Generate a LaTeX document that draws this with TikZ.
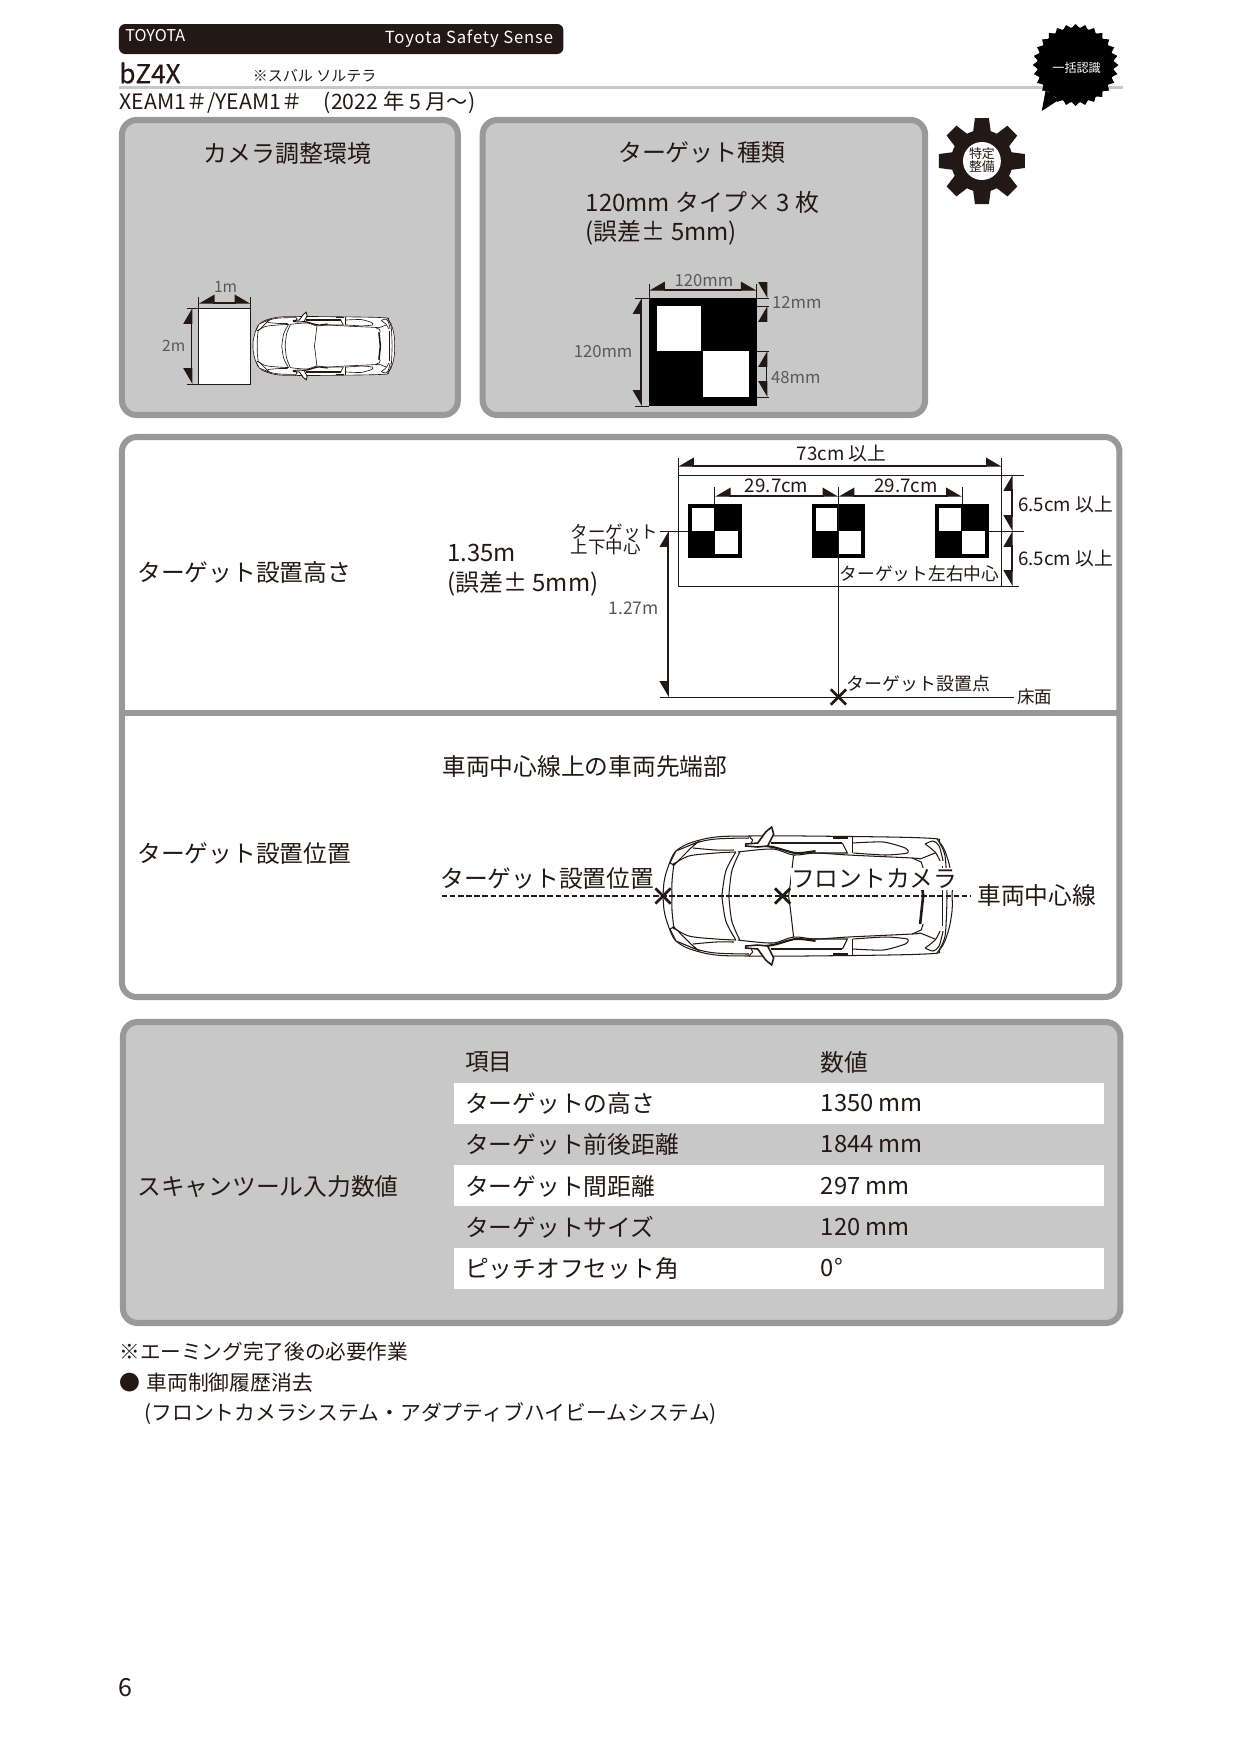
\documentclass[tikz,border=0pt]{standalone}
\usepackage{fontspec}
\setmainfont{Noto Sans CJK JP}
\newfontfamily\spacedfont[LetterSpace=5]{Noto Sans CJK JP}
\newfontfamily\heavyfont[FakeBold=0.6]{Noto Sans CJK JP}
\usepackage{xcolor}
\usetikzlibrary{arrows.meta}
\usetikzlibrary{shapes.misc}
\definecolor{ink}{HTML}{231815}
\definecolor{panelfill}{HTML}{C8C8C8}
\definecolor{panelrim}{HTML}{999999}
\tikzset{
    txt/.style={
        font=\fontsize{#1}{#1}\selectfont,
        text=ink,
        anchor=west,
        inner sep=0pt
    },
    grey/.style={
        text=black!65
    },
    panelbox/.style={
        draw=panelrim,
        line width=2.9pt,
        rounded corners=7pt
    },
    thinline/.style={
        draw=ink,
        line width=0.45pt
    },
    dimh/.style={
        draw=ink,
        line width=0.7pt,
        {Triangle[harpoon,swap,length=7pt,width=8pt]}-{Triangle[harpoon,length=7pt,width=8pt]}
    },
    dimv/.style={
        draw=ink,
        line width=0.7pt,
        {Triangle[harpoon,length=7pt,width=8pt]}-{Triangle[harpoon,swap,length=7pt,width=8pt]}
    },
    tipdown/.style={
        draw=ink,
        line width=0.7pt,
        -{Triangle[harpoon,swap,length=7pt,width=8pt]}
    },
    tipup/.style={
        draw=ink,
        line width=0.7pt,
        -{Triangle[harpoon,length=7pt,width=8pt]}
    },
    crossmark/.style={
        cross out,
        draw=ink,
        line width=1.3pt,
        inner sep=0pt,
        minimum size=6pt
    },
    pics/checker/.style={
        code={
            \fill[black] (0,0) rectangle (108,108);
            \fill[white] (8,8) rectangle (52,53);
            \fill[white] (54,53) rectangle (100,99);
        }
    },
    pics/carview/.style={
        code={
            \foreach \s in {1,-1} {
                \begin{scope}[yscale=\s, line width=#1, draw=ink]
                    % body half, then its lines
                    \fill[white] plot[smooth, tension=.6] coordinates {(7,0) (8,-14) (11,-26) (17,-41) (24,-48) (37,-54) (60,-59) (93,-60) (150,-60) (270,-58) (285,-53) (293,-36) (297,-15) (297,0)} -- cycle;
                    \draw plot[smooth, tension=.6] coordinates {(7,0) (8,-14) (11,-26) (17,-41) (24,-48) (37,-54) (60,-59) (93,-60) (150,-60) (270,-58) (285,-53) (293,-36) (297,-15) (297,0)};
                    \draw plot[smooth, tension=.6] coordinates {(25,-46) (40,-53) (60,-57) (93,-58)};
                    % headlight and hood
                    \draw[fill=white] (14,-33) -- (20,-45) -- (42,-54) -- (35,-48) -- (18,-31) -- cycle;
                    \draw plot[smooth] coordinates {(16,-31) (33,-40) (60,-43) (80,-44)};
                    \draw plot[smooth] coordinates {(37,-48) (60,-46) (78,-46)};
                    \draw plot[smooth] coordinates {(18,-33) (16,-15) (16,0)};
                    % cowl arcs and roof line
                    \draw plot[smooth] coordinates {(80,-44) (70,-25) (66,0)};
                    \draw plot[smooth] coordinates {(84,-44) (76,-25) (73,0)};
                    \draw plot[smooth] coordinates {(82,-44) (117,-47) (138,-41) (160,-43) (193,-41) (257,-38) (265,-37)};
                    \draw plot[smooth] coordinates {(138,-41) (135,-15) (133,0)};
                    % windows and rails
                    \draw[line width=2*#1] plot[smooth] coordinates {(90,-52) (117,-49) (140,-43) (160,-45)};
                    \draw[line width=2*#1] (115,-53) -- (187,-53);
                    \draw (187,-53) -- (192,-43) -- (150,-43);
                    \draw (197,-59) -- (197,-43);
                    \draw plot[smooth, tension=.4] coordinates {(197,-53) (228,-54) (250,-48) (252,-43) (230,-41) (198,-43)};
                    \draw[line width=2*#1] (178,-58) -- (193,-58);
                    % tail end
                    \draw (265,-37) -- (280,-43);
                    \draw (257,-38) -- (266,-34) -- (268,-28);
                    \draw[line width=2.5*#1] (265,-28) -- (268,0);
                    \draw plot[smooth] coordinates {(270,-52) (278,-55) (284,-50) (288,-35)};
                    \draw plot[smooth] coordinates {(270,-52) (280,-44) (285,-35)};
                    \draw plot[smooth] coordinates {(282,-57) (290,-40) (292,0)};
                    \draw (287,-30) -- (287,0);
                    % door mirror
                    \draw (93,-60) -- (97,-56) -- (95,-52);
                    \draw[fill=white, line width=1.5*#1] (90,-52) -- (102,-53) -- (110,-64) -- (116,-69) -- (118,-62) -- (112,-50) -- (102,-49) -- (90,-50) -- cycle;
                \end{scope}
            }
        }
    }
}

\begin{document}
\begin{tikzpicture}[x=0.4783pt, y=-0.48pt]
  \useasboundingbox (-0.4,0) rectangle (1245,1754);

  % Header
  \fill[ink, rounded corners=3pt] (119,24) rectangle (565,54);
  \node[txt=7.8, text=white] (maker) at (125,36) {TOYOTA};
  \node[txt=8, text=white, anchor=east] (system) at (555,39) {\spacedfont Toyota Safety Sense};
  \fill[panelfill] (119,86) rectangle (1127,89);
  \node[txt=12.5] (model) at (119,73) {\heavyfont bZ4X};
  \node[txt=7.2] (twin) at (253,76) {※スバル ソルテラ};
  \node[txt=10.2] (code) at (119,103) {XEAM1＃/YEAM1＃　(2022 年 5 月～)};

  % Burst badge
  \fill[black] (1079,65) ellipse (38.5 and 37.5);
  \foreach \k in {0,...,27} {
    \pgfmathsetmacro{\ao}{\k*360/28}
    \pgfmathsetmacro{\al}{\ao-180/28}
    \pgfmathsetmacro{\ar}{\ao+180/28}
    \fill[black] ({1079+38*cos(\al)},{65+37*sin(\al)}) -- ({1079+43*cos(\ao)},{65+41*sin(\ao)}) -- ({1079+38*cos(\ar)},{65+37*sin(\ar)}) -- cycle;
  }
  \fill[black] (1045,111) -- (1049,90) -- (1062,100) -- cycle;
  \node[txt=5.8, text=white, anchor=center] (badge) at (1080,68) {一括認識};

  % Gear badge
  \fill[ink] (985,161) circle (31);
  \foreach \a in {0,45,...,315} {
    \fill[ink, rotate around={\a:(985,161)}] (976,133) -- (994,133) -- (992,118) -- (978,118) -- cycle;
  }
  \fill[white] (985,161) circle (19);
  \node[txt=6.2, anchor=center] (gearA) at (985,154) {特定};
  \node[txt=6.2, anchor=center] (gearB) at (985,167) {整備};

  % Top panels
  \draw[panelbox, fill=panelfill] (122,120) rectangle (459,415);
  \draw[panelbox, fill=panelfill] (484,120) rectangle (928,415);
  \node[txt=11.5, anchor=center] (envtitle) at (288,153) {カメラ調整環境};
  \node[txt=11.5, anchor=center] (kindtitle) at (704,153) {ターゲット種類};
  \node[txt=11.5] (kindA) at (587,202) {120mm タイプ× 3 枚};
  \node[txt=11.5] (kindB) at (587,233) {(誤差± 5mm)};

  % Camera environment sketch
  \fill[white] (199,308) rectangle (251,384);
  \draw[thinline] (199,297) -- (199,384) -- (187,384);
  \draw[thinline] (251,297) -- (251,384) -- (199,384);
  \draw[thinline] (187,308) -- (251,308);
  \coordinate (envL) at (199,303);
  \coordinate (envR) at (251,303);
  \coordinate (envT) at (192,308);
  \coordinate (envB) at (192,384);
  \draw[dimh] (envL) -- (envR);
  \draw[dimv] (envT) -- (envB);
  \node[txt=7.5, grey, anchor=center] (envw) at (226,287) {1m};
  \node[txt=7.5, grey, anchor=center] (envh) at (174,346) {2m};
  \pic at (250,346) [scale=0.49] {carview={0.3pt}};

  % Target sketch
  \pic at (651,298) {checker};
  \draw[thinline] (651,284) -- (651,298);
  \draw[thinline] (759,284) -- (759,298);
  \draw[thinline] (637,298) -- (651,298);
  \draw[thinline] (637,406) -- (651,406);
  \draw[thinline] (759,298) -- (771,298);
  \draw[thinline] (759,306) -- (771,306);
  \draw[thinline] (759,351) -- (771,351);
  \draw[thinline] (759,397) -- (771,397);
  \coordinate (sizeL) at (651,290);
  \coordinate (sizeR) at (759,290);
  \coordinate (sizeT) at (643,298);
  \coordinate (sizeB) at (643,406);
  \draw[dimh] (sizeL) -- (sizeR);
  \draw[dimv] (sizeT) -- (sizeB);
  \coordinate (gapA) at (769,282);
  \coordinate (gapB) at (769,298);
  \coordinate (gapC) at (769,322);
  \coordinate (gapD) at (769,306);
  \draw[tipdown] (gapA) -- (gapB);
  \draw[tipup] (gapC) -- (gapD);
  \coordinate (gapE) at (769,351);
  \coordinate (gapF) at (769,397);
  \draw[dimv] (gapE) -- (gapF);
  \node[txt=8, grey, anchor=center] (sizew) at (706,281) {120mm};
  \node[txt=8, grey] (sizeh) at (575,352) {120mm};
  \node[txt=8, grey] (gaptop) at (774,302) {12mm};
  \node[txt=8, grey] (gapbot) at (773,378) {48mm};

  % Middle panel
  \draw[panelbox, fill=white] (122,437) rectangle (1123,997);
  \draw[panelrim, line width=2.9pt] (119,713) -- (1126,713);
  \node[txt=11.4] (heighttitle) at (137,572) {ターゲット設置高さ};
  \node[txt=11.5] (heightA) at (448,553) {1.35m};
  \node[txt=11.5] (heightB) at (448,584) {(誤差± 5mm)};
  \node[txt=11.4] (postitle) at (137,854) {ターゲット設置位置};

  % Board with three targets
  \draw[thinline] (680,458) -- (680,586) -- (1022,586);
  \draw[thinline] (680,475) -- (1027,475);
  \draw[thinline] (1005,458) -- (1005,586);
  \foreach \tx in {690,814,938} {
    \pic at (\tx,504) [scale=0.5] {checker};
  }
  \draw[thinline] (662,531) -- (690,531);
  \draw[thinline] (992,531) -- (1027,531);
  \draw[thinline] (841,487) -- (841,697);
  \draw[thinline] (717,487) -- (717,504);
  \draw[thinline] (965,487) -- (965,504);
  \draw[thinline] (662,697) -- (1017,697);
  \coordinate (boardL) at (680,466);
  \coordinate (boardR) at (1005,466);
  \coordinate (markA) at (717,496);
  \coordinate (markB) at (841,496);
  \coordinate (markC) at (965,496);
  \coordinate (upT) at (1015,475);
  \coordinate (upM) at (1015,531);
  \coordinate (upB) at (1015,586);
  \coordinate (riseT) at (670,531);
  \coordinate (riseB) at (670,697);
  \draw[dimh] (boardL) -- (boardR);
  \draw[dimh] (markA) -- (markB);
  \draw[dimh] (markB) -- (markC);
  \draw[dimv] (upT) -- (upM);
  \draw[dimv] (upM) -- (upB);
  \draw[dimv] (riseT) -- (riseB);
  \node[crossmark] (spot) at (841,697) {};
  \node[txt=9, anchor=center] (boardw) at (844,454) {73cm 以上};
  \node[txt=9, anchor=center] (markAB) at (779,486) {29.7cm};
  \node[txt=9, anchor=center] (markBC) at (909,486) {29.7cm};
  \node[txt=9] (upA) at (1021,505) {6.5cm 以上};
  \node[txt=9] (upC) at (1021,559) {6.5cm 以上};
  \node[txt=8.4] (vertA) at (572,532) {ターゲット};
  \node[txt=8.4] (vertB) at (572,547) {上下中心};
  \node[txt=8.4, grey] (rise) at (610,608) {1.27m};
  \node[txt=8.5] (horiz) at (842,574) {ターゲット左右中心};
  \node[txt=8.6] (point) at (849,684) {ターゲット設置点};
  \node[txt=8.4] (floorlab) at (1020,697) {床面};

  % Vehicle position sketch
  \node[txt=11.4] (posnote) at (443,767) {車両中心線上の車両先端部};
  \pic at (658,896) {carview={0.5pt}};
  \coordinate (axisL) at (443,896);
  \coordinate (axisR) at (974,896);
  \draw[ink, line width=0.7pt, dash pattern=on 2.6pt off 1.3pt] (axisL) -- (axisR);
  \node[crossmark] (nose) at (665,896) {};
  \node[crossmark] (camera) at (785,896) {};
  \node[txt=11.4] (setpos) at (441,879) {ターゲット設置位置};
  \node[txt=11.4, fill=white, minimum height=11pt] (camlab) at (793,879) {フロントカメラ};
  \node[txt=11.4] (axislab) at (980,895) {車両中心線};

  % Scan tool panel
  \draw[panelbox, fill=panelfill] (123,1022) rectangle (1124,1323);
  \node[txt=11.4] (scantitle) at (137,1187) {スキャンツール入力数値};
  \foreach \rowy in {1083,1165,1248} {
    \fill[white] (455,\rowy) rectangle (1107,\rowy+41);
  }
  \node[txt=11.4] (headA) at (466,1062) {項目};
  \node[txt=11.4] (headB) at (823,1062) {数値};
  \foreach \i/\rowy/\lab/\num in {1/1103/ターゲットの高さ/1350 mm, 2/1144/ターゲット前後距離/1844 mm, 3/1186/ターゲット間距離/297 mm, 4/1227/ターゲットサイズ/120 mm, 5/1268/ピッチオフセット角/0°} {
    \node[txt=11.4] (item\i) at (466,\rowy) {\lab};
    \node[txt=11.4] (val\i) at (823,\rowy) {\num};
  }

  % Notes below
  \node[txt=9.9] (noteA) at (119,1352) {※エーミング完了後の必要作業};
  \node[txt=10] (noteB) at (119,1383) {●\hspace{3pt}車両制御履歴消去};
  \node[txt=10] (noteC) at (144,1414) {(フロントカメラシステム・アダプティブハイビームシステム)};
  \node[txt=12] (pageno) at (118,1688) {6};
\end{tikzpicture}
\end{document}
